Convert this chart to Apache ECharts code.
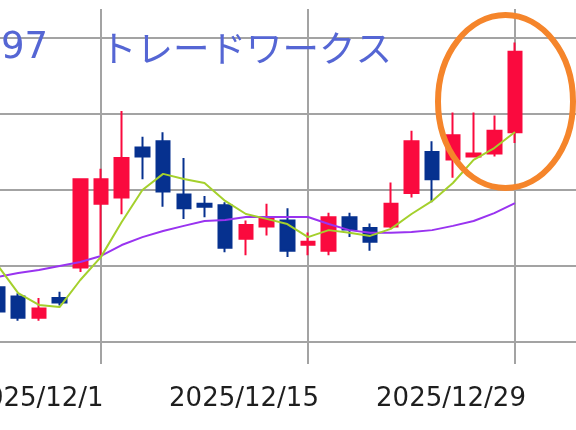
<!DOCTYPE html>
<html>
<head>
<meta charset="utf-8">
<script src="https://cdn.jsdelivr.net/npm/echarts@6/dist/echarts.min.js"></script>
<style>
html, body { margin: 0; padding: 0; background: #fff; }
#chart { width: 576px; height: 430px; }
</style>
</head>
<body>
<div id="chart"></div>
<script>
// trading days (last three are empty slots to the right)
var dates = [
  "2025/11/21", "2025/11/25", "2025/11/26", "2025/11/27", "2025/11/28",
  "2025/12/1", "2025/12/2", "2025/12/3", "2025/12/4", "2025/12/5",
  "2025/12/8", "2025/12/9", "2025/12/10", "2025/12/11", "2025/12/12",
  "2025/12/15", "2025/12/16", "2025/12/17", "2025/12/18", "2025/12/19",
  "2025/12/22", "2025/12/23", "2025/12/24", "2025/12/25", "2025/12/26",
  "2025/12/29", "2025/12/30", "2026/1/5", "2026/1/6"
];
// [open, close, low, high]
var ohlc = [
  [493, 485, 484, 494.5],
  [490, 483, 482, 491],
  [483, 486, 482, 489.5],
  [489.5, 488, 487, 491.5],
  [499.5, 528.5, 498, 528.5],
  [520.5, 528.5, 503.5, 532],
  [522.5, 535.5, 517, 551],
  [539, 536, 528.5, 542.5],
  [541, 524.5, 519.5, 544],
  [523.5, 519, 515.5, 535.5],
  [520.5, 519.5, 516, 523],
  [520, 506, 504.5, 521],
  [509, 513.5, 503.5, 515],
  [513, 515.5, 510, 520.5],
  [515, 505, 503, 519],
  [507, 508, 503.5, 511],
  [505, 516, 503.5, 517.5],
  [516, 512, 509.5, 517.5],
  [512.5, 508, 505, 514],
  [513, 520.5, 512.5, 527.5],
  [524, 541, 522.5, 544.5],
  [537.5, 528.5, 521, 541],
  [535, 543, 529, 550.5],
  [536, 537, 536, 550.5],
  [537, 544.5, 536, 549.5],
  [544, 570.5, 540.5, 573.5]
];
var ma5 = [
  500.3, 491.1, 487.2, 486.5, 495.4, 503, 514.5, 525, 530.3, 528.6,
  527.3, 521.4, 517.1, 515.5, 513.8, 509.5, 511.8, 510.9, 509.9, 512.2,
  517.1, 521.4, 527.3, 534.9, 538.8, 544.1
];
var ma25 = [
  496.4, 497.7, 498.7, 500, 501.3, 503.3, 506.9, 509.5, 511.5, 513.2,
  514.8, 515.1, 516.1, 516.1, 516.1, 516.1, 513.8, 511.8, 510.9, 510.9,
  511.2, 511.8, 513.2, 514.8, 517.4, 520.7
];
var tickDates = ["2025/12/1", "2025/12/15", "2025/12/29"];
var yMin = 475, yMax = 600, yStep = 25;

var gridColor = "#a3a3a3";
function isTick(i, v) {
  return tickDates.indexOf(v) >= 0;
}

var myChart = echarts.init(document.getElementById("chart"));
myChart.setOption({
  animation: false,
  grid: [
    { left: -2.5, right: -1.1, top: -38, bottom: 88, outerBoundsMode: "none", containLabel: false },
    { left: -2.5, right: -1.1, top: 9, bottom: 88, outerBoundsMode: "none", containLabel: false }
  ],
  xAxis: [
    {
      type: "category",
      gridIndex: 0,
      data: dates,
      boundaryGap: false,
      axisLine: { show: false },
      axisTick: {
        show: true,
        interval: isTick,
        length: 22,
        lineStyle: { color: gridColor, width: 2 }
      },
      axisLabel: {
        interval: isTick,
        fontFamily: "DejaVu Sans",
        fontSize: 26,
        color: "#1e1e1e",
        margin: 44,
        align: "center",
        padding: [0, 128, 0, 0]
      },
      splitLine: { show: false }
    },
    {
      type: "category",
      gridIndex: 1,
      data: dates,
      boundaryGap: false,
      axisLine: { show: false },
      axisTick: { show: false },
      axisLabel: { show: false },
      splitLine: {
        show: true,
        interval: isTick,
        lineStyle: { color: gridColor, width: 2 }
      }
    }
  ],
  yAxis: [
    {
      type: "value",
      gridIndex: 0,
      min: yMin,
      max: yMax,
      interval: yStep,
      axisLine: { show: false },
      axisTick: { show: false },
      axisLabel: { show: false },
      splitLine: { lineStyle: { color: gridColor, width: 2 } }
    },
    {
      type: "value",
      gridIndex: 1,
      show: false,
      splitLine: { show: false }
    }
  ],
  graphic: [
    {
      type: "text",
      x: 48,
      y: 48,
      z: 10,
      style: {
        text: "3997",
        font: '37px "DejaVu Sans"',
        fill: "#5566d4",
        align: "right",
        verticalAlign: "middle"
      }
    },
    {
      type: "text",
      x: 100,
      y: 48,
      z: 10,
      style: {
        text: "トレードワークス",
        font: '36.5px "Noto Sans CJK JP"',
        fill: "#5566d4",
        align: "left",
        verticalAlign: "middle"
      }
    },
    {
      type: "ellipse",
      z: 100,
      shape: { cx: 505.5, cy: 101.5, rx: 67.5, ry: 86.5 },
      style: { fill: "none", stroke: "#f5852b", lineWidth: 6 }
    }
  ],
  series: [
    {
      type: "candlestick",
      xAxisIndex: 0,
      yAxisIndex: 0,
      data: ohlc,
      barWidth: 14,
      itemStyle: {
        color: "#fa0a3e",
        color0: "#06318f",
        borderColor: "#fa0a3e",
        borderColor0: "#06318f",
        borderWidth: 2
      }
    },
    {
      type: "line",
      xAxisIndex: 0,
      yAxisIndex: 0,
      data: ma25,
      symbol: "none",
      lineStyle: { color: "#9933f0", width: 2 }
    },
    {
      type: "line",
      xAxisIndex: 0,
      yAxisIndex: 0,
      data: ma5,
      symbol: "none",
      lineStyle: { color: "#a4d02c", width: 2 }
    }
  ]
});
</script>
</body>
</html>
